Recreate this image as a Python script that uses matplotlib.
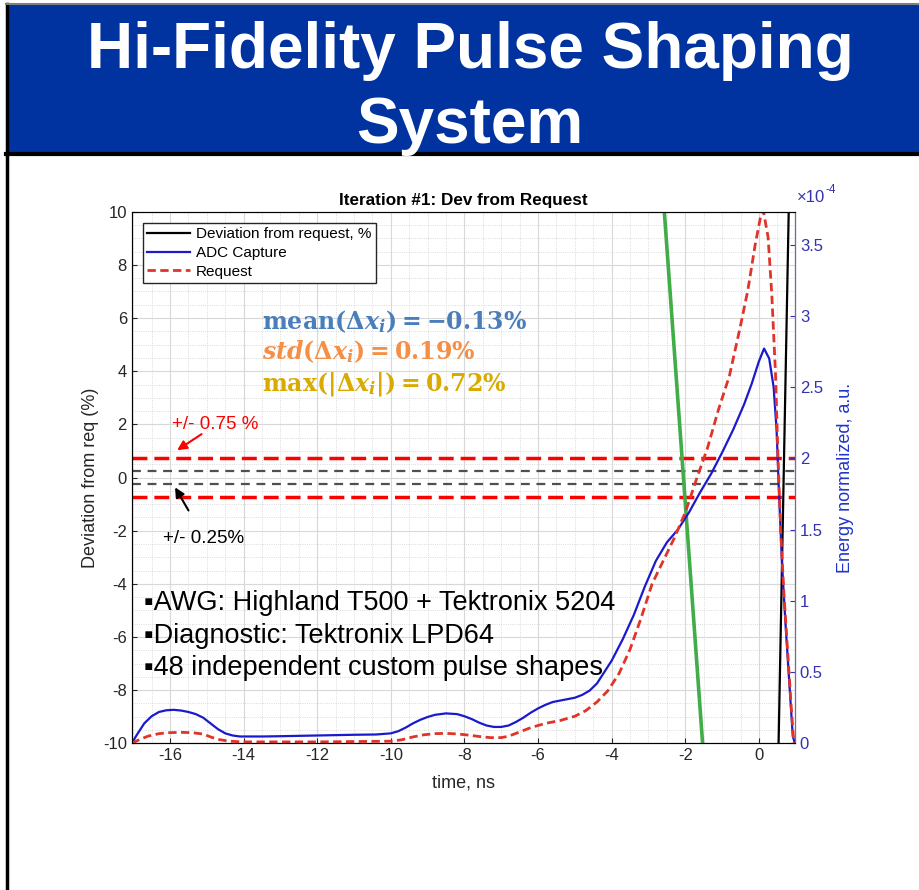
import matplotlib
matplotlib.use("Agg")
import matplotlib.pyplot as plt
from matplotlib.patches import Rectangle
from matplotlib.lines import Line2D
from matplotlib.ticker import MultipleLocator, FormatStrFormatter

plt.rcParams['font.family'] = ['Liberation Sans', 'DejaVu Sans']
plt.rcParams['axes.unicode_minus'] = False
plt.rcParams['mathtext.fontset'] = 'custom'
plt.rcParams['mathtext.rm'] = 'DejaVu Serif:bold'
plt.rcParams['mathtext.it'] = 'DejaVu Serif:bold:italic'
plt.rcParams['mathtext.bf'] = 'DejaVu Serif:bold'

# --- data (time in ns, energy in units of 1e-4) ---
adc_t = [-17.04, -16.9, -16.7, -16.5, -16.3, -16.1, -15.9, -15.7, -15.5, -15.3,
         -15.1, -14.9, -14.7, -14.5, -14.3, -14.1, -13.5, -13.0, -12.0, -11.0,
         -10.4, -10.0, -9.8, -9.6, -9.4, -9.2, -9.0, -8.8, -8.5, -8.2,
         -8.0, -7.8, -7.6, -7.4, -7.2, -7.0, -6.8, -6.6, -6.4, -6.2,
         -6.0, -5.8, -5.6, -5.4, -5.2, -5.0, -4.8, -4.6, -4.4, -4.2,
         -4.0, -3.7, -3.4, -3.1, -2.8, -2.5, -2.2, -1.9, -1.6, -1.3,
         -1.0, -0.7, -0.4, -0.2, 0.0, 0.14, 0.28, 0.40, 0.48, 0.54,
         0.62, 0.72, 0.82, 0.92, 0.98]
adc_e = [0.00, 0.06, 0.14, 0.19, 0.22, 0.232, 0.235, 0.23, 0.22, 0.205,
         0.18, 0.14, 0.10, 0.07, 0.055, 0.048, 0.048, 0.05, 0.055, 0.06,
         0.062, 0.07, 0.085, 0.11, 0.14, 0.165, 0.185, 0.20, 0.21, 0.205,
         0.19, 0.17, 0.145, 0.125, 0.115, 0.115, 0.125, 0.15, 0.18, 0.215,
         0.245, 0.27, 0.29, 0.30, 0.31, 0.32, 0.34, 0.37, 0.42, 0.50,
         0.58, 0.73, 0.90, 1.10, 1.28, 1.41, 1.50, 1.62, 1.76, 1.89,
         2.04, 2.20, 2.38, 2.52, 2.68, 2.77, 2.70, 2.50, 2.20, 1.80,
         1.30, 0.85, 0.45, 0.05, 0.0]

req_t = [-17.04, -16.8, -16.6, -16.3, -16.0, -15.7, -15.4, -15.1, -14.9, -14.7,
         -14.4, -14.0, -12.0, -10.0, -9.7, -9.4, -9.1, -8.8, -8.5, -8.2,
         -7.9, -7.6, -7.3, -7.0, -6.8, -6.6, -6.4, -6.2, -5.8, -5.4,
         -5.0, -4.7, -4.4, -4.1, -3.8, -3.5, -3.2, -2.9, -2.6, -2.3,
         -2.0, -1.7, -1.4, -1.1, -0.8, -0.5, -0.3, -0.1, 0.05, 0.12,
         0.25, 0.35, 0.45, 0.52, 0.60, 0.68, 0.78, 0.88, 0.95]
req_e = [0.0, 0.03, 0.05, 0.068, 0.075, 0.077, 0.075, 0.065, 0.045, 0.028,
         0.015, 0.01, 0.01, 0.015, 0.025, 0.045, 0.06, 0.068, 0.07, 0.066,
         0.058, 0.048, 0.04, 0.04, 0.05, 0.07, 0.09, 0.11, 0.14, 0.16,
         0.19, 0.23, 0.29, 0.37, 0.49, 0.66, 0.88, 1.12, 1.28, 1.44,
         1.62, 1.85, 2.07, 2.34, 2.58, 2.93, 3.18, 3.50, 3.70, 3.74,
         3.55, 3.15, 2.60, 2.00, 1.45, 1.05, 0.65, 0.25, 0.0]

dev_t = [0.535, 0.81]
dev_pct = [-10, 10]
green_t = [-2.57, -1.53]
green_pct = [10, -10]

tol_outer = 0.75
tol_inner = 0.25

bullets = ["\u25aaAWG: Highland T500 + Tektronix 5204",
           "\u25aaDiagnostic: Tektronix LPD64",
           "\u25aa48 independent custom pulse shapes"]
stats = [(r"$\mathrm{mean}(\Delta x_i) = -0.13\%$", '#4a7ebb'),
         (r"$std(\Delta x_i) = 0.19\%$", '#f58f45'),
         (r"$\mathrm{max}(|\Delta x_i|) = 0.72\%$", '#d9aa00')]

fig = plt.figure(figsize=(9.2, 8.9), dpi=100)

# slide header
fig.add_artist(Rectangle((0.0085, 0.829), 0.992, 0.166, transform=fig.transFigure,
                         facecolor='#00339f', edgecolor='none'))
fig.add_artist(Line2D([0.007, 1.0], [0.8265, 0.8265], transform=fig.transFigure,
                      color='black', lw=3))
fig.add_artist(Line2D([0.008, 0.008], [0.0, 0.996], transform=fig.transFigure,
                      color='black', lw=2.5))
fig.add_artist(Line2D([0.007, 1.0], [0.9955, 0.9955], transform=fig.transFigure,
                      color='#808080', lw=1.5))
fig.text(0.511, 0.9236, "Hi-Fidelity Pulse Shaping", ha='center', va='baseline',
         color='white', fontsize=46, fontweight='bold')
fig.text(0.511, 0.8393, "System", ha='center', va='baseline',
         color='white', fontsize=46, fontweight='bold')

ax = fig.add_axes([0.1432, 0.1648, 0.7209, 0.5973])
ax2 = ax.twinx()

ax.set_xlim(-17.04, 0.98)
ax.set_ylim(-10, 10)
ax.xaxis.set_major_locator(MultipleLocator(2))
ax.xaxis.set_minor_locator(MultipleLocator(0.5))
ax.yaxis.set_major_locator(MultipleLocator(2))
ax.yaxis.set_minor_locator(MultipleLocator(0.5))
ax.grid(which='major', color='#d8d8d8', lw=0.8)
ax.grid(which='minor', color='#d0d0d0', lw=0.6, ls=':')
ax.set_axisbelow(True)
ax.tick_params(which='both', direction='in', labelsize=12, colors='#262626')
ax.tick_params(which='minor', length=0)
for s in ['left', 'bottom', 'top']:
    ax.spines[s].set_color('#262626')

ax.axhline(tol_outer, color='red', lw=2.5, dashes=(4.3, 2))
ax.axhline(-tol_outer, color='red', lw=2.5, dashes=(4.3, 2))
ax.axhline(tol_inner, color='#505050', lw=1.6, dashes=(4, 3))
ax.axhline(-tol_inner, color='#505050', lw=1.6, dashes=(4, 3))
ax.plot(green_t, green_pct, color='#40ad48', lw=2.6)
ax.plot(dev_t, dev_pct, color='black', lw=1.6)

ax.set_xlabel("time, ns", fontsize=13, color='#262626', labelpad=8)
ax.set_ylabel("Deviation from req (%)", fontsize=13, color='#262626', labelpad=3)
ax.set_title("Iteration #1: Dev from Request", fontsize=12.3, fontweight='bold', pad=5)

ax2.plot(adc_t, adc_e, color='#1a1acc', lw=1.6)
ax2.plot(req_t, req_e, color='#e0342a', lw=2.0, dashes=(3, 1.6))
ax2.set_ylim(0, 3.73)
ax2.yaxis.set_major_locator(MultipleLocator(0.5))
ax2.yaxis.set_major_formatter(FormatStrFormatter('%g'))
ax2.tick_params(direction='in', labelsize=12, colors='#3333b0')
ax2.spines['right'].set_color('#6a6ab8')
ax2.set_ylabel("Energy normalized, a.u.", fontsize=13, color='#2233cc', labelpad=10)
ax2.text(1.003, 1.012, "\u00d710", transform=ax2.transAxes, fontsize=12,
         color='#3333b0', va='bottom')
ax2.text(1.046, 1.03, "-4", transform=ax2.transAxes, fontsize=8.5,
         color='#3333b0', va='bottom')

handles = [Line2D([], [], color='black', lw=1.6),
           Line2D([], [], color='#1a1acc', lw=1.6),
           Line2D([], [], color='#e0342a', lw=2.0, dashes=(3, 1.6))]
ax2.legend(handles, ["Deviation from request, %", "ADC Capture", "Request"],
           loc='upper left', bbox_to_anchor=(0.0166, 0.979), borderaxespad=0,
           fontsize=11, frameon=True, fancybox=False, edgecolor='#262626',
           framealpha=1, handlelength=2.8, borderpad=0.3, labelspacing=0.3,
           handletextpad=0.4)

# annotations
ax.annotate("", xy=(-15.87, 0.97), xytext=(-15.08, 1.69),
            arrowprops=dict(arrowstyle='-|>', color='red', lw=1.5, mutation_scale=14))
ax.text(-15.95, 1.81, "+/- 0.75 %", color='red', fontsize=13.5, va='baseline')
ax.annotate("", xy=(-15.9, -0.28), xytext=(-15.46, -1.33),
            arrowprops=dict(arrowstyle='-|>', color='black', lw=1.5, mutation_scale=14))
ax.text(-16.2, -2.45, "+/- 0.25%", color='black', fontsize=13.5, va='baseline')

for (s, c), y in zip(stats, [5.59, 4.46, 3.29]):
    ax.text(-13.5, y, s, color=c, fontsize=17, va='baseline')

for b, y in zip(bullets, [-4.99, -6.23, -7.44]):
    ax.text(-16.72, y, b, fontsize=19.5, va='baseline', color='black')

fig.savefig("out.png", dpi=100)
